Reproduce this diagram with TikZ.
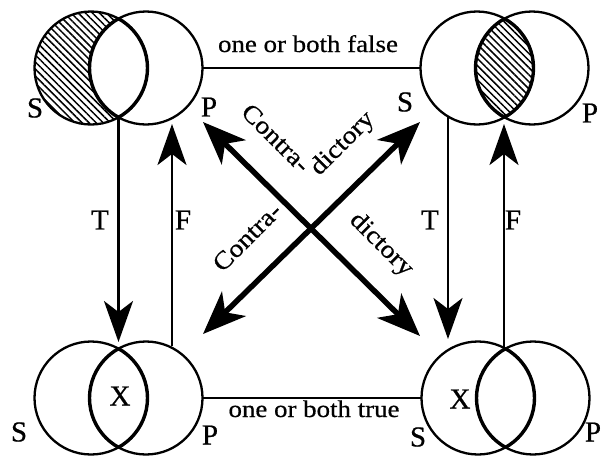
\documentclass[tikz,border=0pt]{standalone}
\usepackage{fontspec}
\setmainfont{Liberation Serif}
\newfontfamily\widefont[FakeStretch=1.12,FakeBold=0.6]{Liberation Serif}
\newfontfamily\letfont[FakeBold=0.6]{Liberation Serif}
\usetikzlibrary{arrows.meta,patterns.meta}
\begin{document}
\begin{tikzpicture}[x=1pt,y=-1pt,
  venn/.style={circle,draw,line width=2.3pt,minimum size=113pt,inner sep=0pt,outer sep=0pt},
  lens/.style={line width=3.4pt},
  hatch/.style={pattern={Lines[angle=-45,distance=5pt,line width=1.5pt]}},
  varrow/.style={line width=2.6pt,-{Stealth[length=41pt,width=29pt,inset=11pt]}},
  darrow/.style={line width=5.5pt,{Stealth[length=43pt,width=34pt,inset=12pt]}-{Stealth[length=43pt,width=34pt,inset=12pt]}},
  lbl/.style={font=\widefont\fontsize{24}{24}\selectfont,inner sep=0pt},
  dlbl/.style={font=\widefont\fontsize{25}{25}\selectfont,inner sep=0pt},
  letter/.style={font=\letfont\fontsize{29}{29}\selectfont,inner sep=0pt},
  conn/.style={line width=2.4pt}]
\useasboundingbox (0,0) rectangle (602,458);
% circle nodes
\node[venn] (tlS) at (91,68) {};
\node[venn] (tlP) at (146,68) {};
\node[venn] (trS) at (477,68) {};
\node[venn] (trP) at (532,68) {};
\node[venn] (blS) at (91,398) {};
\node[venn] (blP) at (146,398) {};
\node[venn] (brS) at (478,398) {};
\node[venn] (brP) at (533,398) {};
% hatching
\begin{scope}
  \clip (tlS.center) circle (56.5pt);
  \path[hatch,even odd rule] (tlS.center) circle (56.5pt) (tlP.center) circle (56.5pt);
\end{scope}
\begin{scope}
  \clip (trS.center) circle (56.5pt);
  \path[hatch] (trP.center) circle (56.5pt);
\end{scope}
% lens outlines
\foreach \s/\p in {tlS/tlP,trS/trP,blS/blP,brS/brP}{
  \begin{scope}\clip (\s.center) circle (56.5pt); \draw[lens] (\p.center) circle (56.5pt);\end{scope}
  \begin{scope}\clip (\p.center) circle (56.5pt); \draw[lens] (\s.center) circle (56.5pt);\end{scope}
}
% horizontal connectors
\draw[conn] (tlP.east) -- (trS.west);
\draw[conn] (blP.east) -- (brS.west);
\node[lbl,anchor=base] (tf) at (308,52) {one or both false};
\node[lbl,anchor=base] (bt) at (314,417) {one or both true};
% vertical arrows
\coordinate (tlT1) at (118.5,117);
\coordinate (tlT2) at (118.5,342);
\coordinate (tlF1) at (172,346);
\coordinate (tlF2) at (172,124);
\coordinate (trT1) at (448,116);
\coordinate (trT2) at (448,339);
\coordinate (trF1) at (504,348);
\coordinate (trF2) at (504,124);
\draw[varrow] (tlT1) -- (tlT2);
\draw[varrow] (tlF1) -- (tlF2);
\draw[varrow] (trT1) -- (trT2);
\draw[varrow] (trF1) -- (trF2);
\node[letter] (lT) at (100,220) {T};
\node[letter] (lF) at (183,220) {F};
\node[letter] (rT) at (430,220) {T};
\node[letter] (rF) at (513,220) {F};
% diagonal arrows
\coordinate (nw) at (203,122);
\coordinate (se) at (420,336);
\coordinate (ne) at (420,122);
\coordinate (sw) at (203,334);
\draw[darrow] (nw) -- (se);
\draw[darrow] (ne) -- (sw);
\node[dlbl,rotate=-45] (c1) at (276,138) {Contra-};
\node[dlbl,rotate=45] (d1) at (343,144) {dictory};
\node[dlbl,rotate=45] (c2) at (247,237) {Contra-};
\node[dlbl,rotate=-45] (d2) at (381,245) {dictory};
% letters
\node[letter] (sTL) at (35,108) {S};
\node[letter] (pTL) at (209,107) {P};
\node[letter] (sTR) at (405,102) {S};
\node[letter] (pTR) at (590,113) {P};
\node[letter] (sBL) at (19,432) {S};
\node[letter] (pBL) at (210,435) {P};
\node[letter] (xBL) at (120,396) {X};
\node[letter] (xBR) at (460,399) {X};
\node[letter] (sBR) at (418,437) {S};
\node[letter] (pBR) at (593,432) {P};
\end{tikzpicture}
\end{document}
